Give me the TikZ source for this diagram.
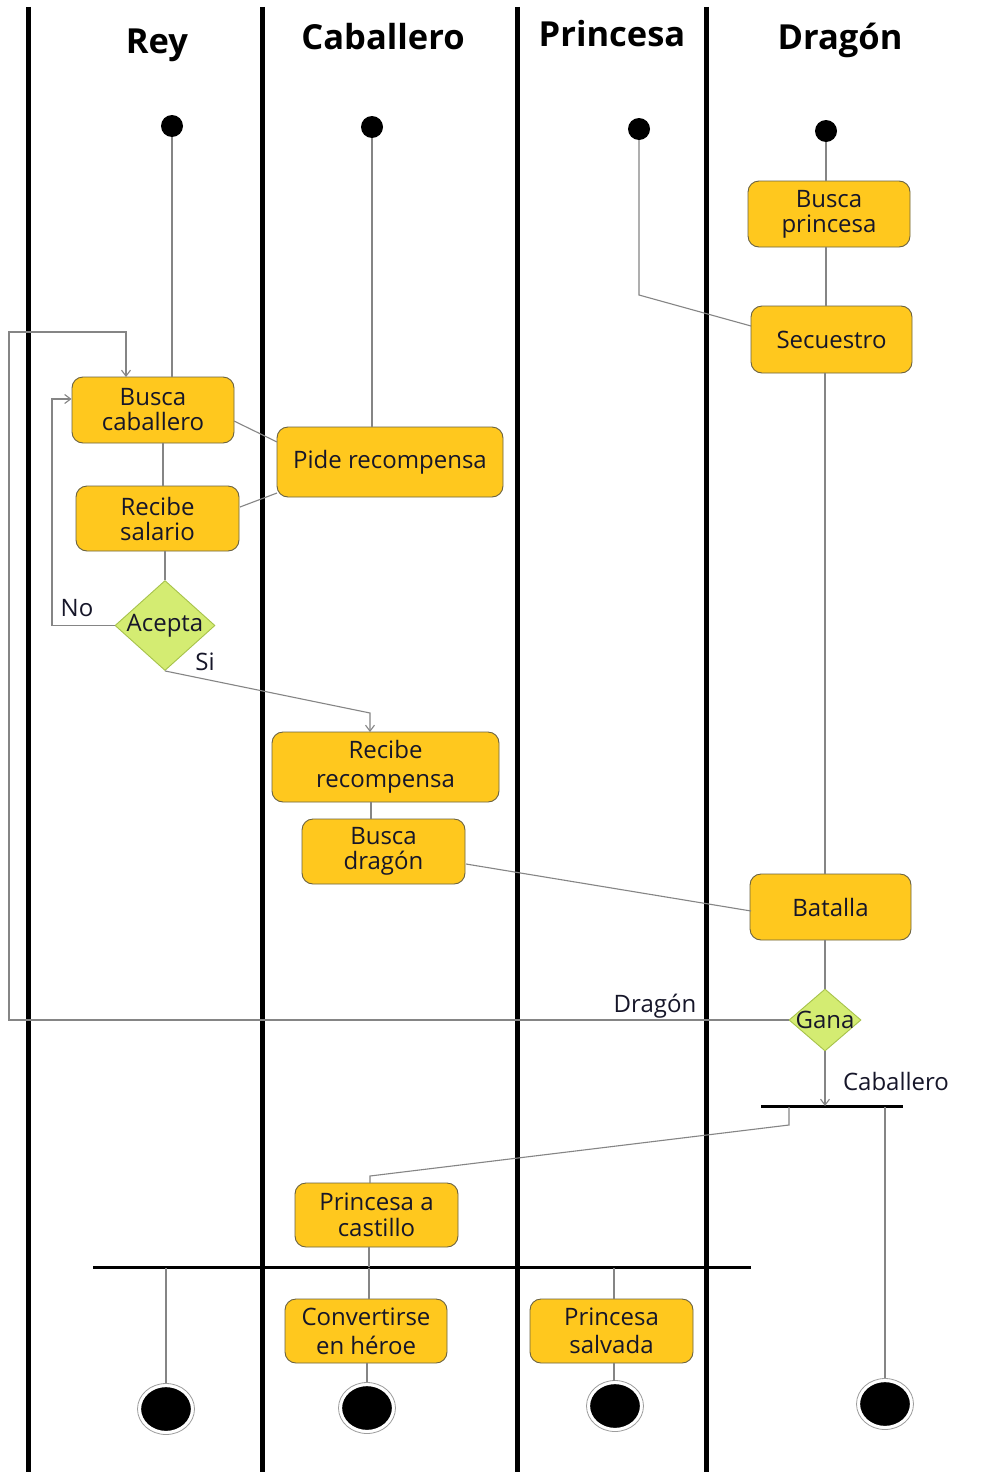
\documentclass[tikz,border=0pt]{standalone}
\usepackage{fontspec}
\setmainfont{Open Sans}
\usetikzlibrary{shapes.geometric,arrows.meta}
\definecolor{boxfill}{HTML}{FFC81E}
\definecolor{boxline}{HTML}{6B6240}
\definecolor{decfill}{HTML}{D4EC72}
\definecolor{decline}{HTML}{A6C24A}
\definecolor{flow}{HTML}{858585}
\definecolor{ink}{HTML}{161629}
\tikzset{
  lane/.style={line width=5pt,black},
  lanetitle/.style={font={\bfseries\fontsize{34.5}{36}\selectfont},anchor=base},
  act/.style={rectangle,rounded corners=11pt,fill=boxfill,draw=boxline,line width=0.9pt,
    text=ink,align=center,inner sep=0pt,font={\fontsize{24}{25}\selectfont}},
  dec/.style={diamond,fill=decfill,draw=decline,line width=0.9pt,inner sep=0pt},
  dectext/.style={text=ink,font={\fontsize{24}{25}\selectfont}},
  startdot/.style={ellipse,fill=black,minimum width=22pt,minimum height=22pt,inner sep=0pt},
  enddot/.style={ellipse,fill=black,draw=white,line width=2.2pt,minimum width=52pt,minimum height=46pt,inner sep=0pt},
  endring/.style={ellipse,draw=flow!80,line width=0.8pt,minimum width=57pt,minimum height=51pt,inner sep=0pt},
  bar/.style={line width=3pt,black},
  flowline/.style={draw=flow,line width=1.1pt},
  arr/.style={-{Straight Barb[length=6pt,width=9pt]}},
  guard/.style={text=ink,font={\fontsize{24}{25}\selectfont},anchor=base}
}
\begin{document}
\begin{tikzpicture}[x=1pt,y=-1pt]
\useasboundingbox (0,0) rectangle (988,1472);
\fill[white] (0,0) rectangle (988,1472);

% swimlane separators
\draw[lane] (28,7) -- (28,1472);
\draw[lane] (262,7) -- (262,1472);
\draw[lane] (517,7) -- (517,1472);
\draw[lane] (706,7) -- (706,1472);

% lane titles
\node[lanetitle] (tRey) at (157,53) {Rey};
\node[lanetitle] (tCab) at (383,50) {Caballero};
\node[lanetitle] (tPri) at (612,47) {Princesa};
\node[lanetitle] (tDra) at (840,50) {Dragón};

% initial states
\node[startdot] (s1) at (172,126) {};
\node[startdot] (s2) at (372,127) {};
\node[startdot] (s3) at (639,129) {};
\node[startdot] (s4) at (826,131) {};

% activities
\node[act,minimum width=162pt,minimum height=66pt] (bc) at (153,410) {Busca\\caballero};
\node[act,minimum width=226pt,minimum height=70pt] (pr) at (390,462) {Pide recompensa};
\node[act,minimum width=163pt,minimum height=65pt] (rs) at (157.5,518.5) {Recibe\\salario};
\node[act,minimum width=227pt,minimum height=70pt,font={\fontsize{24}{29}\selectfont}] (rr) at (385.5,767) {Recibe\\recompensa};
\node[act,minimum width=163pt,minimum height=65pt] (bd) at (383.5,851.5) {Busca\\dragón};
\node[act,minimum width=162pt,minimum height=66pt] (bp) at (829,214) {Busca\\princesa};
\node[act,minimum width=161pt,minimum height=67pt] (sec) at (831.5,339.5) {Secuestro};
\node[act,minimum width=161pt,minimum height=66pt] (bat) at (830.5,907) {Batalla};
\node[act,minimum width=163pt,minimum height=64pt,font={\fontsize{24}{26}\selectfont}] (pac) at (376.5,1215) {Princesa a\\castillo};
\node[act,minimum width=162pt,minimum height=64pt,font={\fontsize{24}{29}\selectfont}] (ceh) at (366,1331) {Convertirse\\en héroe};
\node[act,minimum width=163pt,minimum height=64pt,font={\fontsize{24}{28}\selectfont}] (ps) at (611.5,1331) {Princesa\\salvada};

% decisions
\node[dec,minimum width=100pt,minimum height=90pt] (ac) at (165,625.5) {};
\node[dectext] (acT) at (ac.center) {Acepta};
\node[dec,minimum width=72pt,minimum height=62pt] (ga) at (825,1020) {};
\node[dectext] (gaT) at (ga.center) {Gana};

% fork / join bars
\coordinate (fkL) at (761,1106);
\coordinate (fkR) at (903,1106);
\coordinate (jnL) at (93,1267);
\coordinate (jnR) at (751,1267);
\draw[bar] (fkL) -- (fkR);
\draw[bar] (jnL) -- (jnR);

% final states
\node[endring] (e1r) at (166,1409) {};
\node[enddot] (e1) at (166,1409) {};
\node[endring] (e2r) at (367,1408) {};
\node[enddot] (e2) at (367,1408) {};
\node[endring] (e3r) at (615,1406) {};
\node[enddot] (e3) at (615,1406) {};
\node[endring] (e4r) at (885,1404) {};
\node[enddot] (e4) at (885,1404) {};

% control flow: Rey and Caballero
\draw[flowline] (s1) -- (s1 |- bc.north);
\draw[flowline] (s2) -- (s2 |- pr.north);
\draw[flowline] (234,421) -- (277,442);
\draw[flowline] (163,443) -- (163,486);
\draw[flowline] (277,493) -- (240,507);
\draw[flowline] (rs.south -| ac.north) -- (ac.north);
\draw[flowline,arr] (ac.west) -- (52,625.5) -- (52,399) -- (bc.west |- 0,399);
\draw[flowline,arr] (ac.south) -- (370,713) -- (370,732);
\draw[flowline] (371,802) -- (371,819);
\draw[flowline] (466,864) -- (751,911);

% control flow: Princesa and Dragón
\draw[flowline] (s4) -- (s4 |- bp.north);
\draw[flowline] (826,247) -- (826,306);
\draw[flowline] (s3) -- (639,295) -- (751,326);
\draw[flowline] (825,373) -- (825,874);
\draw[flowline] (825,940) -- (ga.north);
\draw[flowline,arr] (ga.west) -- (9,1020) -- (9,332) -- (126,332) -- (126,377);
\draw[flowline,arr] (ga.south) -- (825,1106);

% after the fork
\draw[flowline] (789,1107) -- (789,1125) -- (370,1176) -- (370,1183);
\draw[flowline] (885,1107) -- (e4r.north);
\draw[flowline] (369,1247) -- (369,1267);
\draw[flowline] (166,1268) -- (e1r.north);
\draw[flowline] (369,1268) -- (369,1299);
\draw[flowline] (614,1268) -- (614,1299);
\draw[flowline] (367,1363) -- (e2r.north);
\draw[flowline] (614,1363) -- (614,1381);

% guards
\node[guard] (gNo) at (77,616) {No};
\node[guard] (gSi) at (205,670) {Si};
\node[guard] (gDr) at (655,1012) {Dragón};
\node[guard] (gCa) at (896,1090) {Caballero};
\end{tikzpicture}
\end{document}
